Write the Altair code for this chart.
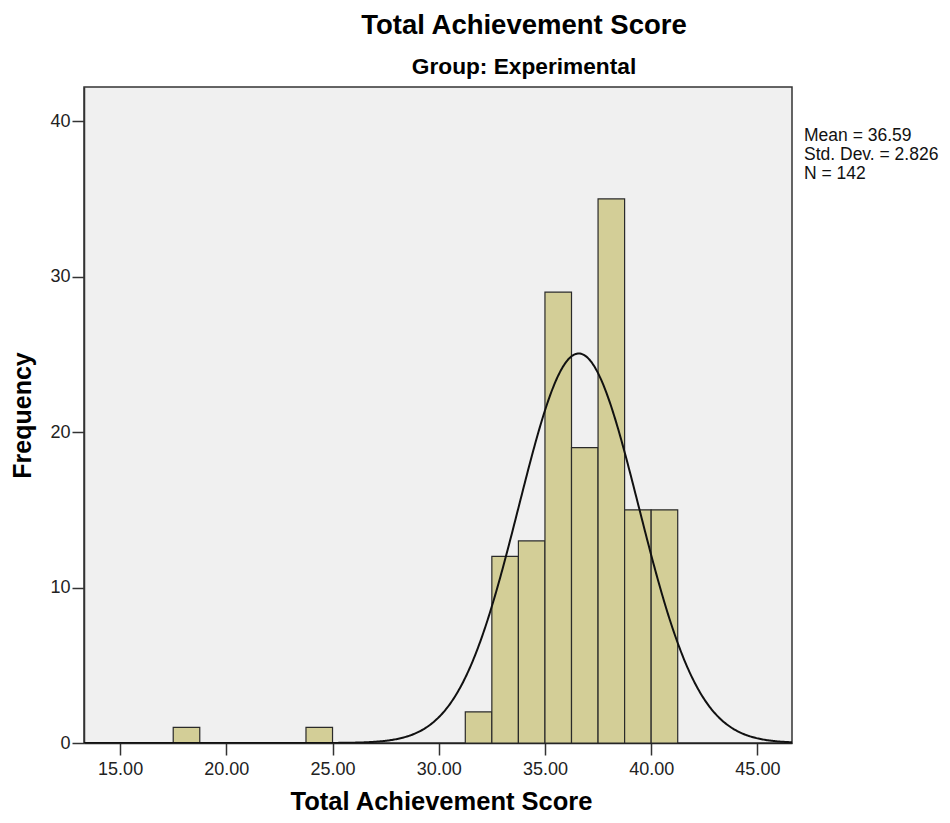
import altair as alt
import pandas as pd

# ---- data ----
bin_start = [17.5, 23.75, 31.25, 32.5, 33.75, 35.0, 36.25, 37.5, 38.75, 40.0]
counts = [1, 1, 2, 12, 13, 29, 19, 35, 15, 15]
bin_width = 1.25
mean = 36.59
std_dev = 2.826
n_total = 142
x_ticks = [15, 20, 25, 30, 35, 40, 45]
y_ticks = [0, 10, 20, 30, 40]
x_domain = [13.3, 46.63]
y_domain = [0, 42.2]

FONT = "Liberation Sans, Arial, Helvetica, sans-serif"

bars_df = pd.DataFrame({"start": bin_start, "count": counts})

x_scale = alt.Scale(domain=x_domain, nice=False, zero=False)
y_scale = alt.Scale(domain=y_domain, nice=False, zero=True)

x_axis = alt.Axis(
    values=x_ticks, format=".2f", title="Total Achievement Score", grid=False,
    tickSize=12, tickWidth=1.5, tickColor="#333", domainColor="#222", domainWidth=1.5,
    labelFontSize=18, labelFont=FONT, labelColor="#222", labelBaseline="alphabetic",
    labelPadding=19.5, labelFlush=False, labelOverlap=False,
    titleFontSize=25.5, titleFont=FONT, titleFontWeight="bold", titleColor="#000",
    titleBaseline="alphabetic", titleY=66, titleX=357,
)
y_axis = alt.Axis(
    values=y_ticks, format="d", title="Frequency", grid=False,
    tickSize=12, tickWidth=1.5, tickColor="#333", domainColor="#333", domainWidth=1.5,
    labelFontSize=18, labelFont=FONT, labelColor="#222", labelPadding=2,
    labelFlush=False, labelOverlap=False,
    titleFontSize=25, titleFont=FONT, titleFontWeight="bold", titleColor="#000",
    titleBaseline="alphabetic", titleAngle=270, titleX=-54, titleY=328,
)

bars = alt.Chart(bars_df).transform_calculate(
    end=f"datum.start + {bin_width}"
).mark_rect(fill="#d3ce97", stroke="#2a2a2a", strokeWidth=1.2).encode(
    x=alt.X("start:Q", scale=x_scale, axis=x_axis),
    x2="end:Q",
    y=alt.Y("count:Q", scale=y_scale, axis=y_axis),
    y2=alt.datum(0),
)

curve = alt.Chart(alt.sequence(x_domain[0], x_domain[1] + 0.05, 0.05, as_="score")).transform_calculate(
    freq=f"{n_total} * {bin_width} * exp(-0.5 * pow((datum.score - {mean}) / {std_dev}, 2)) / ({std_dev} * sqrt(2 * PI))"
).mark_line(color="#111", strokeWidth=2, clip=True).encode(
    x=alt.X("score:Q", scale=x_scale),
    y=alt.Y("freq:Q", scale=y_scale),
)

stats_lines = [f"Mean = {mean:.2f}", f"Std. Dev. = {std_dev:.3f}", f"N = {n_total}"]
stats = alt.Chart(pd.DataFrame({"k": [0]})).mark_text(
    text=stats_lines, align="left", baseline="alphabetic", fontSize=17.5,
    lineHeight=19, font=FONT, color="#111",
).encode(x=alt.value(720), y=alt.value(54.4))

chart = alt.layer(bars, curve, stats).properties(
    width=708,
    height=656,
    background="white",
    title=alt.TitleParams(
        text="Total Achievement Score",
        subtitle="Group: Experimental",
        font=FONT, fontSize=27.5, fontWeight="bold", color="#000",
        subtitleFont=FONT, subtitleFontSize=22.7, subtitleFontWeight="bold", subtitleColor="#000",
        anchor="middle", dx=86, offset=8, subtitlePadding=17,
    ),
    autosize=alt.AutoSizeParams(type="none"),
    padding={"left": 76, "top": 79, "right": 150, "bottom": 72},
).configure_view(
    fill="#f0f0f0", stroke="#333", strokeWidth=1.5,
)

chart.save("out.html", embed_options={"renderer": "svg", "actions": False})
